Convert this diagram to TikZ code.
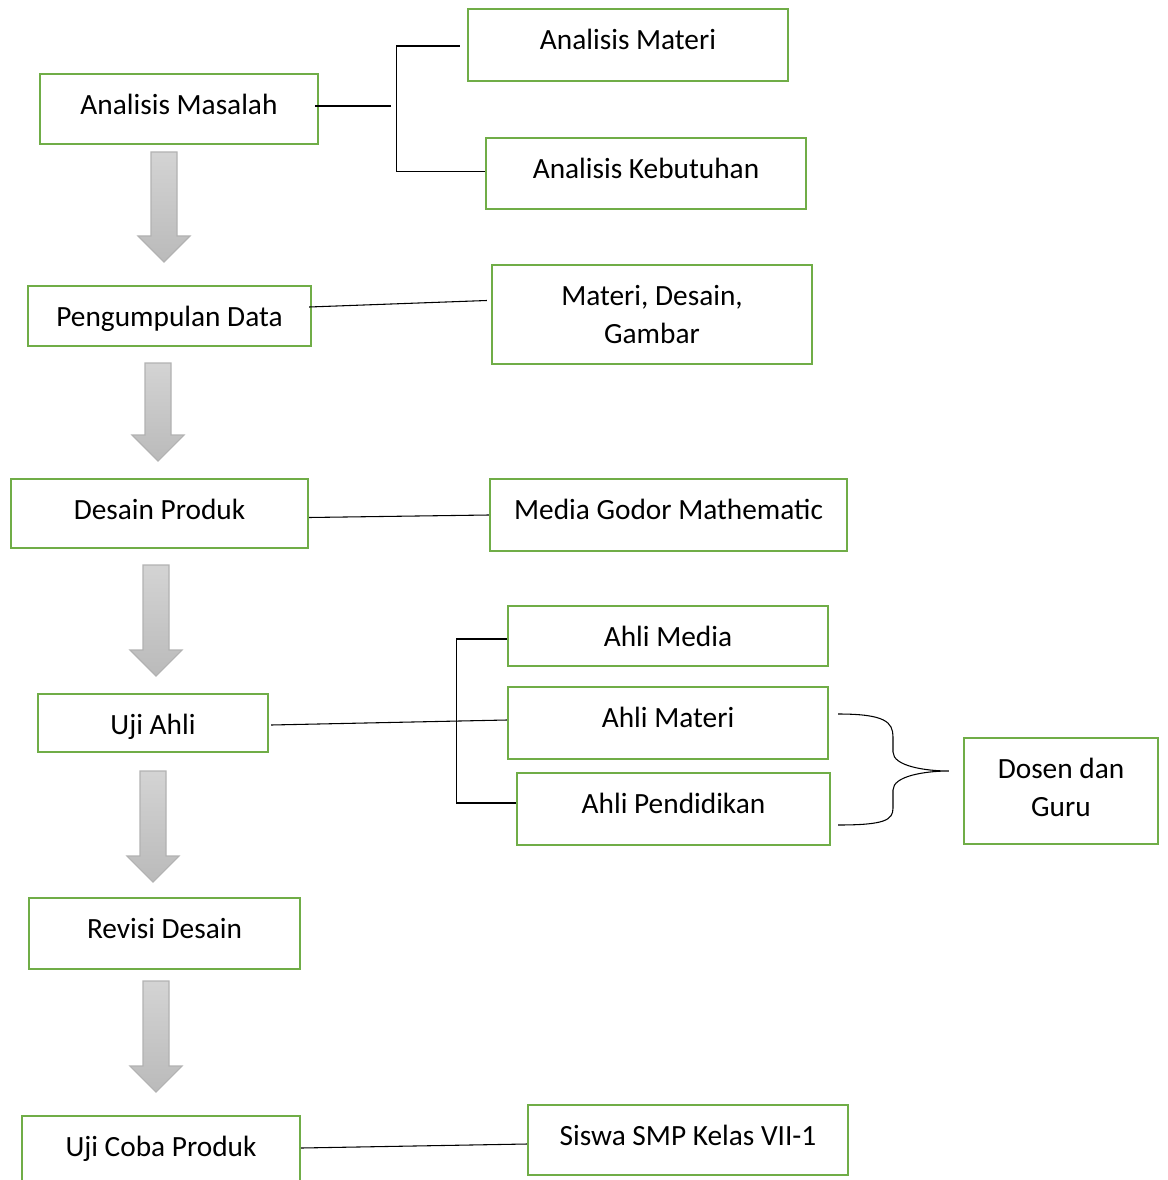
\documentclass[tikz,border=0pt]{standalone}
\usepackage{fontspec}
\setmainfont{Carlito}
\usepackage{xcolor}
\usetikzlibrary{positioning,calc,fit}
\definecolor{boxgreen}{HTML}{70AD47}
\tikzset{
  box/.style     = {rectangle, draw=boxgreen, line width=1.7pt, inner sep=0pt},
  boxtext/.style = {anchor=base, yshift=-31pt, inner sep=0pt, align=center,
                    font=\fontsize{22}{29}\selectfont},
  boxtexttwo/.style = {boxtext, yshift=-29pt},
  link/.style    = {draw=black, line width=0.8pt},
  arrowfill/.style = {top color=black!17, bottom color=black!27, draw=black!30, line width=0.8pt},
}
\newcommand{\flowarrow}[3]{%
  \draw[arrowfill] (#1-13,#2) -- (#1+13,#2) -- (#1+13,#3-26) -- (#1+26,#3-26)
    -- (#1,#3) -- (#1-26,#3-26) -- (#1-13,#3-26) -- cycle;}

\begin{document}
\begin{tikzpicture}[x=0.75pt,y=-0.75pt]
  \useasboundingbox (0,0) rectangle (1167,1180);

  % main steps
  \node[box,fit={(40,74) (318,144)},   label={[boxtext]north:Analisis Masalah}] (masalah) {};
  \node[box,fit={(28,286) (311,346)},  label={[boxtext]north:Pengumpulan Data}] (kumpul) {};
  \node[box,fit={(11,479) (308,548)},  label={[boxtext]north:Desain Produk}] (desain) {};
  \node[box,fit={(38,694) (268,752)},  label={[boxtext]north:Uji Ahli}] (ujiahli) {};
  \node[box,fit={(29,898) (300,969)},  label={[boxtext]north:Revisi Desain}] (revisi) {};
  \node[box,fit={(22,1116) (300,1186)},label={[boxtext]north:Uji Coba Produk}] (ujicoba) {};

  % side notes
  \node[box,fit={(468,9) (788,81)},    label={[boxtext]north:Analisis Materi}] (amateri) {};
  \node[box,fit={(486,138) (806,209)}, label={[boxtext]north:Analisis Kebutuhan}] (butuh) {};
  \node[box,fit={(492,265) (812,364)}, label={[boxtexttwo]north:{Materi, Desain,\\ Gambar}}] (bahan) {};
  \node[box,fit={(490,479) (847,551)}, label={[boxtext]north:Media Godor Mathematic}] (media) {};
  \node[box,fit={(508,606) (828,666)}, label={[boxtext]north:Ahli Media}] (amedia) {};
  \node[box,fit={(508,687) (828,759)}, label={[boxtext]north:Ahli Materi}] (amat) {};
  \node[box,fit={(517,773) (830,845)}, label={[boxtext]north:Ahli Pendidikan}] (adidik) {};
  \node[box,fit={(964,738) (1158,844)},label={[boxtexttwo]north:{Dosen dan\\ Guru}}] (dosen) {};
  \node[box,fit={(528,1105) (848,1175)},label={[boxtext]north:Siswa SMP Kelas VII-1}] (siswa) {};

  % block arrows
  \flowarrow{164}{152}{262}
  \flowarrow{158}{363}{461}
  \flowarrow{156}{565}{676}
  \flowarrow{153}{771}{882}
  \flowarrow{156}{981}{1092}

  % connectors
  \coordinate (m1) at ($(masalah.east)+(72,-3)$);
  \draw[link] ($(masalah.east)+(-4,-3)$) -- (m1);
  \draw[link] ($(amateri.west)+(-7,1)$) -- ++(-63,0) |- ($(butuh.west)+(0,-2)$);
  \draw[link] ($(kumpul.east)+(-3,-9)$) -- ($(bahan.west)+(-4,-14)$);
  \draw[link] ($(desain.east)+(0,4)$) -- (media.west);
  \draw[link] ($(ujiahli.east)+(2,2)$) -- ($(amat.west)+(0,-3)$);
  \draw[link] ($(amedia.west)+(0,3)$) -- ++(-50,0) |- ($(adidik.west)+(0,-6)$);
  \draw[link] ($(ujicoba.east)+(0,-3)$) -- ($(siswa.west)+(0,4)$);

  % brace
  \coordinate (btip) at ($(dosen.west)+(-14,-20)$);
  \draw[link] (838,714) .. controls (885,714) and (893,722) .. (893,737)
    -- (893,752) .. controls (893,766) and (925,771) .. (btip)
    .. controls (925,771) and (893,776) .. (893,790)
    -- (893,808) .. controls (893,820) and (885,825) .. (838,825);
\end{tikzpicture}
\end{document}
